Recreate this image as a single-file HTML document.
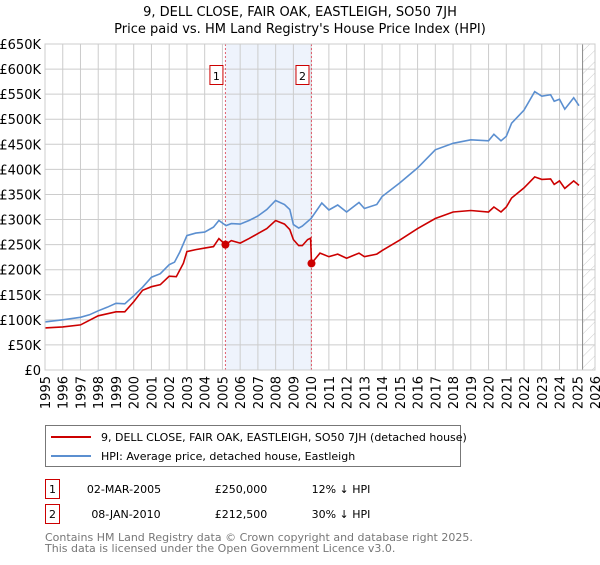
<!DOCTYPE html>
<html><head><meta charset="utf-8"><style>
body{margin:0;background:#fff;font-family:"Liberation Sans","DejaVu Sans",sans-serif;}
svg text{font-family:"DejaVu Sans","Liberation Sans",sans-serif;}
</style></head><body>
<svg id="chart" width="600" height="560" xmlns="http://www.w3.org/2000/svg">
<defs><pattern id="hatch" patternUnits="userSpaceOnUse" width="8" height="8" patternTransform="rotate(45)"><line x1="0" y1="0" x2="0" y2="8" stroke="#ccc" stroke-width="1"/></pattern></defs>
<text x="300" y="16" text-anchor="middle" font-size="13">9, DELL CLOSE, FAIR OAK, EASTLEIGH, SO50 7JH</text>
<text x="300" y="33" text-anchor="middle" font-size="13">Price paid vs. HM Land Registry's House Price Index (HPI)</text>
<g id="plot"></g>
<g>
<rect x="45.5" y="425.5" width="415" height="41" fill="#fff" stroke="#777"/>
<line x1="51" y1="437" x2="91" y2="437" stroke="#cc0000" stroke-width="2"/>
<text x="101" y="441" font-size="11">9, DELL CLOSE, FAIR OAK, EASTLEIGH, SO50 7JH (detached house)</text>
<line x1="51" y1="456" x2="91" y2="456" stroke="#5b8fd0" stroke-width="2"/>
<text x="101" y="460" font-size="11">HPI: Average price, detached house, Eastleigh</text>
</g>
<g font-size="11">
<rect x="45.5" y="479.5" width="14" height="19" fill="#fff" stroke="#cc0000"/>
<text x="52.5" y="493" text-anchor="middle">1</text>
<text x="124" y="493" text-anchor="middle">02-MAR-2005</text>
<text x="241" y="493" text-anchor="middle">£250,000</text>
<text x="341" y="493" text-anchor="middle">12% ↓ HPI</text>
<rect x="45.5" y="504.5" width="14" height="19" fill="#fff" stroke="#cc0000"/>
<text x="52.5" y="518" text-anchor="middle">2</text>
<text x="126" y="518" text-anchor="middle">08-JAN-2010</text>
<text x="241" y="518" text-anchor="middle">£212,500</text>
<text x="341" y="518" text-anchor="middle">30% ↓ HPI</text>
</g>
<text x="45" y="541" font-size="11" fill="#777">Contains HM Land Registry data © Crown copyright and database right 2025.</text>
<text x="45" y="552" font-size="11" fill="#777">This data is licensed under the Open Government Licence v3.0.</text>
</svg>
<script>
const hpiYears=[1995,1996,1997,1997.5,1998,1998.5,1999,1999.5,2000,2000.5,2001,2001.5,2002,2002.3,2002.6,2003,2003.5,2004,2004.5,2004.8,2005.2,2005.5,2006,2006.5,2007,2007.5,2008,2008.5,2008.8,2009,2009.3,2009.5,2010,2010.6,2011,2011.5,2012,2012.7,2013,2013.7,2014,2015,2016,2017,2018,2019,2020,2020.3,2020.7,2021,2021.3,2022,2022.6,2023,2023.5,2023.7,2024,2024.3,2024.8,2025.1];
const hpiValues=[96,100,105,110,118,125,133,132,148,165,185,192,210,215,235,268,273,275,285,298,288,292,291,298,307,320,338,330,320,290,283,287,302,333,319,329,315,334,322,330,346,373,403,439,452,459,457,470,457,466,492,518,555,546,549,536,540,520,543,527];
const priceYears=[1995,1996,1997,1998,1999,1999.5,2000,2000.5,2001,2001.5,2002,2002.4,2002.8,2003,2003.5,2004,2004.5,2004.8,2005.17,2005.5,2006,2006.5,2007,2007.5,2008,2008.5,2008.8,2009,2009.3,2009.5,2009.8,2009.97,2010.02,2010.5,2011,2011.5,2012,2012.7,2013,2013.7,2014,2015,2016,2017,2018,2019,2020,2020.3,2020.7,2021,2021.3,2022,2022.6,2023,2023.5,2023.7,2024,2024.3,2024.8,2025.1];
const priceValues=[84,86,90,108,116,116,136,159,166,170,187,186,213,236,240,243,246,262,250,258,253,262,272,282,298,291,280,260,248,248,260,263,212.5,233,226,231,223,233,226,231,238,259,282,302,315,318,315,325,315,325,343,363,385,380,381,370,377,362,377,368];
const saleYears=[2005.17,2010.02];
const saleValues=[250,212.5];
const saleLabels=["1","2"];
const yTicks=[0,50,100,150,200,250,300,350,400,450,500,550,600,650];
const xTicks=[1995,1996,1997,1998,1999,2000,2001,2002,2003,2004,2005,2006,2007,2008,2009,2010,2011,2012,2013,2014,2015,2016,2017,2018,2019,2020,2021,2022,2023,2024,2025,2026];
const X0=45,X1=595,Y0=370,Y1=44;
const xs=y=>X0+(y-1995)/(2026-1995)*(X1-X0);
const ys=v=>Y0-v/650*(Y0-Y1);
const NS="http://www.w3.org/2000/svg";
const g=document.getElementById('plot');
function mk(t,a){const e=document.createElementNS(NS,t);for(const k in a)e.setAttribute(k,a[k]);g.appendChild(e);return e;}
let e;
e=mk('rect',{x:xs(saleYears[0]),y:Y1,width:xs(saleYears[1])-xs(saleYears[0]),height:Y0-Y1,fill:'#eef3fc'});


e=mk('rect',{x:xs(2025.3),y:Y1,width:X1-xs(2025.3),height:Y0-Y1,fill:'url(#hatch)'});


yTicks.forEach(v=>{
 e=mk('line',{x1:X0,x2:X1,y1:ys(v),y2:ys(v),stroke:'#ccc'});
 
 
 e=mk('text',{x:X0-4,y:ys(v)+5,'text-anchor':'end','font-size':'13'});
 e.textContent=v===0?'£0':'£'+v+'K';
 
 
});
xTicks.forEach(yr=>{
 e=mk('line',{x1:xs(yr),x2:xs(yr),y1:Y1,y2:Y0,stroke:'#ccc'});
 
 
 e=mk('text',{x:0,y:0,'font-size':'13','text-anchor':'end',transform:`translate(${xs(yr)+5},${Y0+6}) rotate(-90)`});
 e.textContent=yr;
 
 
});
e=mk('line',{x1:xs(2025.3),x2:xs(2025.3),y1:Y1,y2:Y0,stroke:'#888'});


saleYears.forEach((yr,i)=>{
 e=mk('line',{x1:xs(yr),x2:xs(yr),y1:Y1,y2:Y0,stroke:'#e06070','stroke-dasharray':'2,2'});
 
 
});
function path(xa,va,color,name){
 const d=xa.map((x,i)=>(i?'L':'M')+xs(x).toFixed(1)+','+ys(va[i]).toFixed(1)).join('');
 e=mk('path',{d:d,fill:'none',stroke:color,'stroke-width':'1.6'});
 
 
}
path(hpiYears,hpiValues,'#5b8fd0','hpi-line');
path(priceYears,priceValues,'#cc0000','price-line');
saleYears.forEach((yr,i)=>{
 e=mk('circle',{cx:xs(yr),cy:ys(saleValues[i]),r:4,fill:'#cc0000'});
 
 
 e=mk('rect',{x:xs(yr)-15.5,y:65.5,width:13,height:19,fill:'#fff',stroke:'#cc0000'});
 
 
 e=mk('text',{x:xs(yr)-9,y:80,'text-anchor':'middle','font-size':'11'});
 e.textContent=saleLabels[i];
 
 
});
e=mk('rect',{x:X0,y:Y1,width:X1-X0,height:Y0-Y1,fill:'none',stroke:'#ccc'});


</script>
</body></html>
